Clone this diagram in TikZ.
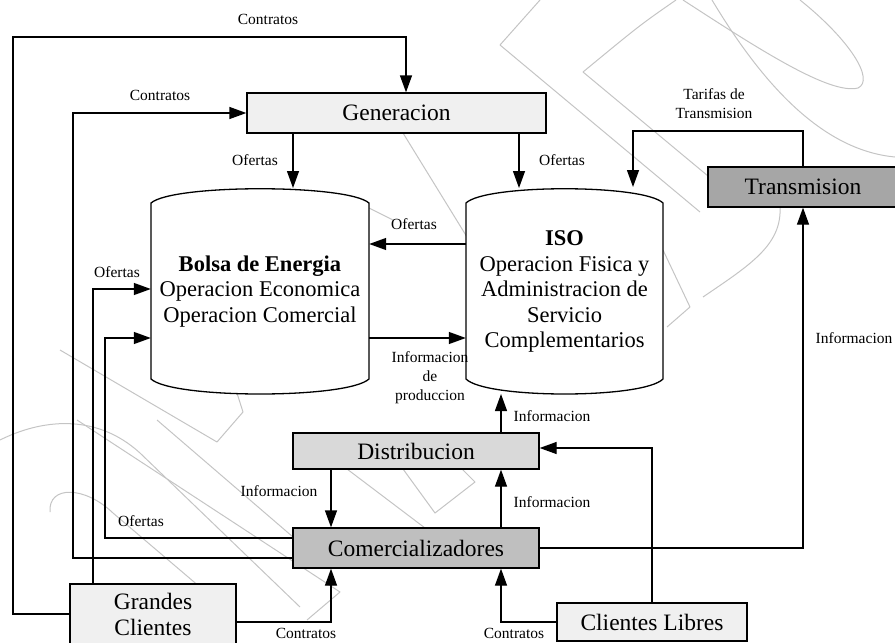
\documentclass[tikz,border=0pt]{standalone}
\usepackage{fontspec}
\setmainfont{Liberation Serif}
\usetikzlibrary{arrows.meta}
\definecolor{fillA}{HTML}{F0F0F0}
\definecolor{fillB}{HTML}{D9D9D9}
\definecolor{fillC}{HTML}{BFBFBF}
\definecolor{fillD}{HTML}{A6A6A6}
\definecolor{mark}{HTML}{C4C4C4}
\begin{document}
\begin{tikzpicture}[x=1pt,y=-1pt,
  conn/.style={line width=1.3pt},
  arr/.style={conn,-{Triangle[length=17pt,width=12pt]}},
  lbl/.style={font=\fontsize{15.5}{19}\selectfont, align=center, inner sep=0pt},
  box/.style={draw, line width=1.3pt, inner sep=0pt, font=\fontsize{23.5}{25.5}\selectfont, align=center},
  drum/.style={inner sep=0pt, font=\fontsize{22.5}{25.5}\selectfont, align=center},
  drumline/.style={line width=1.3pt, fill=white},
  wm/.style={draw=mark, line width=1pt, line join=round},
]
\useasboundingbox (0,0) rectangle (895,643);

% faint background outlines
\path[wm] (540,0) -- (500,45) -- (700,212);
\path[wm] (676,0) .. controls (640,25) .. (583,72) -- (708,176);
\path[wm] (683,0) .. controls (760,50) and (830,95) .. (858,88) .. controls (875,80) and (850,40) .. (800,0);
\path[wm] (712,0) .. controls (760,80) and (820,150) .. (895,157);
\path[wm] (780,207) .. controls (782,245) and (750,265) .. (703,297);
\path[wm] (663,250) -- (690,307) -- (667,327);
\path[wm] (403,133) -- (467,237);
\path[wm] (369,208) -- (393,220);
\path[wm] (60,350) -- (217,442) -- (243,412) -- (236,390);
\path[wm] (0,440) .. controls (40,420) and (95,412) .. (140,453) -- (300,607);
\path[wm] (50,512) .. controls (48,485) and (85,486) .. (113,513) -- (207,593);
\path[wm] (77,420) -- (340,592) -- (307,620);
\path[wm] (157,420) -- (293,537);
\path[wm] (347,469) -- (425,528);
\path[wm] (403,469) -- (435,513) -- (475,482) -- (462,469);

% boxes
\node[box, fill=fillA, minimum width=299pt, minimum height=40pt] (gen) at (396.5,113) {Generacion};
\node[box, fill=fillD, minimum width=190pt, minimum height=40pt] (trans) at (803,187) {Transmision};
\node[box, fill=fillB, minimum width=246pt, minimum height=36pt] (dist) at (416,451) {Distribucion};
\node[box, fill=fillC, minimum width=246pt, minimum height=40pt] (com) at (416,548) {Comercializadores};
\node[box, fill=fillA, minimum width=166pt, minimum height=61pt] (gc) at (153,614.5) {Grandes\\Clientes};
\node[box, fill=fillA, minimum width=190pt, minimum height=38pt] (cl) at (652,622) {Clientes Libres};

% storage drums: outline first, then the text node on top
\foreach \cx/\w in {260/218, 564.5/197} {
  \draw[drumline]
    (\cx-\w/2,203) .. controls (\cx-0.4*\w,184) and (\cx+0.4*\w,184) .. (\cx+\w/2,203)
    -- (\cx+\w/2,379)
    .. controls (\cx+0.4*\w,399) and (\cx-0.4*\w,399) .. (\cx-\w/2,379)
    -- cycle;
}
\node[drum, minimum width=218pt, minimum height=207pt] (bolsa) at (260,291.5)
  {\textbf{Bolsa de Energia}\\Operacion Economica\\Operacion Comercial};
\node[drum, minimum width=197pt, minimum height=207pt] (iso) at (564.5,291.5)
  {\textbf{ISO}\\Operacion Fisica y\\Administracion de\\Servicio\\Complementarios};

% connectors
\draw[arr] (gc.west |- 0,614) -| (13,37) -| (gen.north -| 406,0);
\draw[arr] (com.west |- 0,558) -| (73,0 |- gen.west) -- (gen.west);
\draw[arr] (gen.south -| 293,0) -- (293,188);
\draw[arr] (gen.south -| 519,0) -- (519,188);
\draw[arr] (iso.west |- 0,244) -- (bolsa.east |- 0,244);
\draw[arr] (bolsa.east |- 0,338) -- (iso.west |- 0,338);
\draw[arr] (gc.north -| 93,0) |- (bolsa.west |- 0,289);
\draw[arr] (com.west |- 0,538) -| (105,338) -- (bolsa.west |- 0,338);
\draw[arr] (trans.north) |- (633,131) -- (633,187);
\draw[arr] (com.east) -| (trans.south);
\draw[arr] (dist.north -| 501,0) -- (501,394);
\draw[arr] (dist.south -| 331,0) -- (com.north -| 331,0);
\draw[arr] (com.north -| 501,0) -- (dist.south -| 501,0);
\draw[arr] (cl.north) |- (dist.east |- 0,448);
\draw[arr] (cl.west) -| (com.south -| 501,0);
\draw[arr] (gc.east |- 0,622) -| (com.south -| 331,0);

% labels
\node[lbl] (l1) at (268,19) {Contratos};
\node[lbl] (l2) at (160,95) {Contratos};
\node[lbl] (l3) at (255,160) {Ofertas};
\node[lbl] (l4) at (562,160) {Ofertas};
\node[lbl] (l5) at (414,224) {Ofertas};
\node[lbl] (l6) at (117,272) {Ofertas};
\node[lbl] (l7) at (430,378) {Informacion\\de\\produccion};
\node[lbl] (l8) at (714,104) {Tarifas de\\Transmision};
\node[lbl] (l9) at (854,338) {Informacion};
\node[lbl] (l10) at (552,416) {Informacion};
\node[lbl] (l11) at (279,491) {Informacion};
\node[lbl] (l12) at (552,502) {Informacion};
\node[lbl] (l13) at (141,521) {Ofertas};
\node[lbl] (l14) at (306,633) {Contratos};
\node[lbl] (l15) at (514,633) {Contratos};
\end{tikzpicture}
\end{document}
